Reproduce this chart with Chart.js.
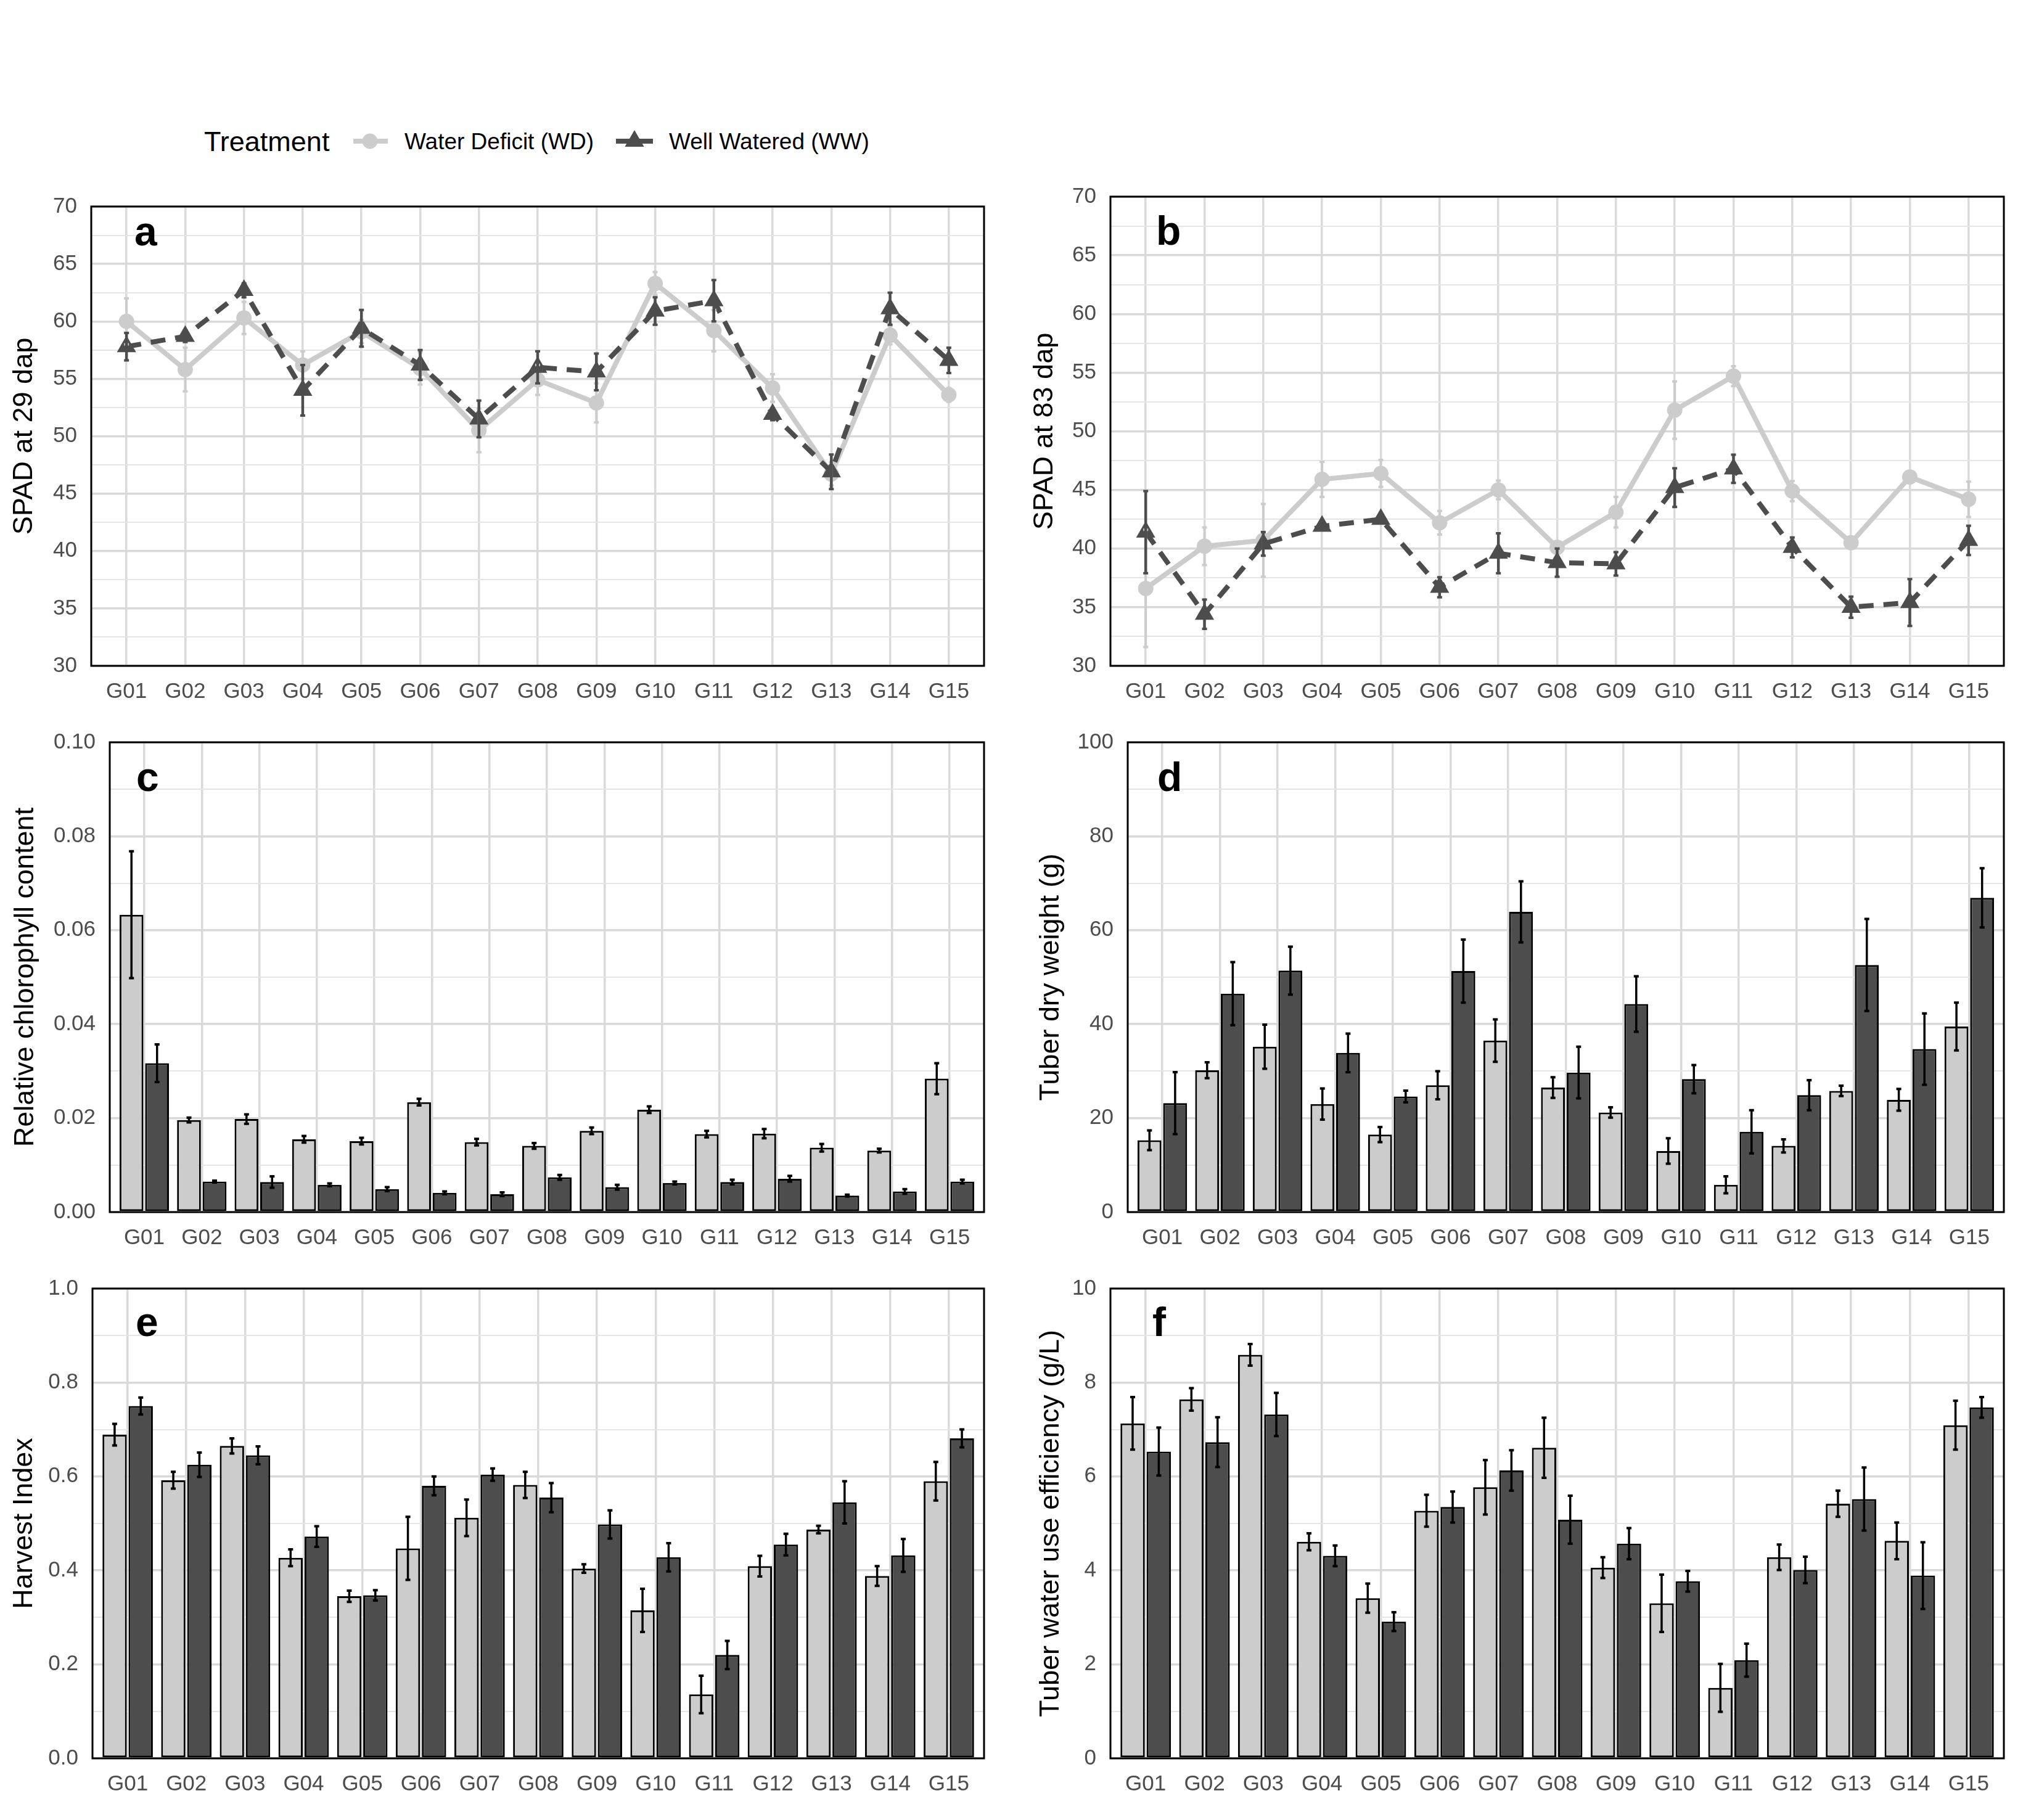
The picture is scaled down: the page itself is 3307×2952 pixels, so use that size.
<!DOCTYPE html>
<html>
<head>
<meta charset="utf-8">
<script src="https://cdn.jsdelivr.net/npm/chart.js@4.4.1/dist/chart.umd.min.js"></script>
<style>
html, body { margin: 0; padding: 0; background: #fff; }
#page { position: relative; width: 3307px; height: 2952px; overflow: hidden; font-family: 'Liberation Sans', Arial, sans-serif; }
#page canvas { position: absolute; }
.lg { position: absolute; white-space: nowrap; color: #000; line-height: 1; }
</style>
</head>
<body>
<div id="page">
  <div class="lg" style="left:331px;top:207px;font-size:45px">Treatment</div>
  <svg style="position:absolute;left:566px;top:209px" width="70" height="40">
    <line x1="7" y1="20" x2="63" y2="20" stroke="#cccccc" stroke-width="8"/>
    <circle cx="34" cy="20" r="12.5" fill="#cccccc"/>
  </svg>
  <div class="lg" style="left:656px;top:211px;font-size:37px">Water Deficit (WD)</div>
  <svg style="position:absolute;left:992px;top:209px" width="74" height="40">
    <line x1="7" y1="20" x2="67" y2="20" stroke="#4d4d4d" stroke-width="8" stroke-dasharray="24 12"/>
    <polygon points="37,2 52.6,29 21.4,29" fill="#4d4d4d"/>
  </svg>
  <div class="lg" style="left:1085px;top:211px;font-size:37px">Well Watered (WW)</div>
</div>
<script>
const genotypes = ['G01', 'G02', 'G03', 'G04', 'G05', 'G06', 'G07', 'G08', 'G09', 'G10', 'G11', 'G12', 'G13', 'G14', 'G15'];

// SPAD at 29 dap
const spad29WD = [60.0, 55.8, 60.3, 56.2, 59.1, 55.9, 50.5, 54.9, 52.9, 63.3, 59.2, 54.2, 46.7, 58.8, 53.6];
const spad29WDse = [2.0, 1.9, 1.4, 1.2, 1.0, 1.4, 1.9, 1.3, 1.7, 1.0, 1.8, 1.2, 1.0, 0.8, 0.6];
const spad29WW = [57.8, 58.7, 62.7, 54.0, 59.4, 56.2, 51.5, 56.0, 55.6, 60.9, 61.8, 51.9, 46.9, 61.1, 56.6];
const spad29WWse = [1.2, 0.5, 0.6, 2.2, 1.6, 1.3, 1.6, 1.4, 1.6, 1.2, 1.8, 0.5, 1.5, 1.4, 1.1];

// SPAD at 83 dap
const spad83WD = [36.6, 40.2, 40.7, 45.9, 46.4, 42.2, 45.0, 40.1, 43.1, 51.8, 54.7, 44.9, 40.5, 46.1, 44.2];
const spad83WDse = [5.0, 1.6, 3.1, 1.5, 1.15, 1.0, 0.8, 0.4, 1.3, 2.45, 0.85, 0.85, 0.4, 0.4, 1.5];
const spad83WW = [41.4, 34.4, 40.4, 41.9, 42.5, 36.7, 39.6, 38.8, 38.7, 45.2, 46.8, 40.1, 35.0, 35.4, 40.7];
const spad83WWse = [3.5, 1.25, 1.0, 0.3, 0.3, 0.85, 1.7, 1.2, 1.0, 1.65, 1.2, 0.85, 0.9, 2.0, 1.25];

// relative chlorophyll content
const chlWD = [0.0633, 0.0196, 0.0198, 0.0155, 0.0151, 0.0234, 0.0149, 0.0141, 0.0173, 0.0218, 0.0166, 0.0167, 0.0137, 0.0131, 0.0284];
const chlWDse = [0.0135, 0.0005, 0.001, 0.0007, 0.0007, 0.0007, 0.0007, 0.0006, 0.0007, 0.0007, 0.0007, 0.001, 0.0008, 0.0004, 0.0033];
const chlWW = [0.0317, 0.0065, 0.0064, 0.0058, 0.0049, 0.0041, 0.0038, 0.0074, 0.0053, 0.0062, 0.0064, 0.0071, 0.0035, 0.0044, 0.0065];
const chlWWse = [0.004, 0.0002, 0.0012, 0.0003, 0.0004, 0.0003, 0.0004, 0.0005, 0.0005, 0.0003, 0.0005, 0.0006, 0.0002, 0.0005, 0.0004];

// tuber dry weight (g)
const tdwWD = [15.3, 30.2, 35.2, 23.0, 16.5, 27.0, 36.5, 26.5, 21.2, 13.0, 5.8, 14.1, 25.8, 23.9, 39.5];
const tdwWDse = [2.1, 1.7, 4.7, 3.3, 1.6, 3.0, 4.5, 2.2, 1.1, 2.7, 1.8, 1.4, 1.1, 2.3, 5.1];
const tdwWW = [23.2, 46.5, 51.4, 33.9, 24.6, 51.3, 63.9, 29.7, 44.3, 28.3, 17.1, 24.9, 52.6, 34.7, 66.9];
const tdwWWse = [6.6, 6.7, 5.1, 4.1, 1.25, 6.7, 6.5, 5.5, 5.9, 3.0, 4.6, 3.2, 9.8, 7.6, 6.3];

// harvest index
const hiWD = [0.689, 0.592, 0.665, 0.427, 0.345, 0.447, 0.512, 0.582, 0.404, 0.315, 0.136, 0.409, 0.487, 0.388, 0.590];
const hiWDse = [0.023, 0.018, 0.016, 0.018, 0.012, 0.067, 0.039, 0.028, 0.009, 0.046, 0.04, 0.022, 0.008, 0.021, 0.041];
const hiWW = [0.750, 0.625, 0.645, 0.472, 0.347, 0.580, 0.604, 0.555, 0.498, 0.428, 0.220, 0.455, 0.545, 0.432, 0.681];
const hiWWse = [0.018, 0.026, 0.019, 0.022, 0.011, 0.02, 0.013, 0.031, 0.03, 0.03, 0.03, 0.023, 0.045, 0.035, 0.019];

// tuber water use efficiency (g/L)
const wueWD = [7.13, 7.64, 8.59, 4.61, 3.41, 5.27, 5.77, 6.61, 4.06, 3.30, 1.50, 4.28, 5.42, 4.63, 7.09];
const wueWDse = [0.56, 0.24, 0.23, 0.18, 0.31, 0.34, 0.58, 0.64, 0.22, 0.61, 0.51, 0.27, 0.28, 0.39, 0.52];
const wueWW = [6.53, 6.73, 7.32, 4.31, 2.91, 5.35, 6.13, 5.08, 4.57, 3.77, 2.09, 4.01, 5.52, 3.89, 7.47];
const wueWWse = [0.51, 0.53, 0.46, 0.22, 0.20, 0.33, 0.43, 0.51, 0.33, 0.22, 0.35, 0.28, 0.67, 0.71, 0.22];

// y tick labels
const spadTicks = [30, 35, 40, 45, 50, 55, 60, 65, 70];
const chlTicks = [0, 0.02, 0.04, 0.06, 0.08, 0.10];
const tdwTicks = [0, 20, 40, 60, 80, 100];
const hiTicks = [0, 0.2, 0.4, 0.6, 0.8, 1.0];
const wueTicks = [0, 2, 4, 6, 8, 10];

const FONT = "'Liberation Sans', Arial, sans-serif";
const WD_COL = '#cccccc';
const WW_COL = '#4d4d4d';
const page = document.getElementById('page');

Chart.defaults.font.family = FONT;

// major ticks plus the minor grid positions half way between them
function withMinor(major) {
    const out = [];
    major.forEach((v, i) => {
        out.push(v);
        if (i < major.length - 1) out.push((v + major[i + 1]) / 2);
    });
    return out;
}

function panel(cfg) {
    const padT = 30, padR = 25, xH = 80;
    const [pl, pt, pr, pb] = cfg.plot;
    const yW = pl - cfg.left;
    const w = yW + (pr - pl) + padR;
    const h = padT + (pb - pt) + xH;

    const cv = document.createElement('canvas');
    cv.width = w;
    cv.height = h;
    cv.style.left = cfg.left + 'px';
    cv.style.top = (pt - padT) + 'px';
    cv.style.width = w + 'px';
    cv.style.height = h + 'px';
    page.appendChild(cv);

    const pts = arr => arr.map((v, i) => ({ x: i + 1, y: v }));
    const isBar = cfg.type === 'bar';

    let datasets;
    if (isBar) {
        datasets = [
            { label: 'Water Deficit (WD)', data: pts(cfg.wd), backgroundColor: WD_COL, borderColor: '#000', borderWidth: 3, borderSkipped: false },
            { label: 'Well Watered (WW)', data: pts(cfg.ww), backgroundColor: WW_COL, borderColor: '#000', borderWidth: 3, borderSkipped: false }
        ];
    } else {
        datasets = [
            { label: 'Water Deficit (WD)', data: pts(cfg.wd), borderColor: WD_COL, backgroundColor: WD_COL, borderWidth: 8,
              pointStyle: 'circle', pointRadius: 12.5, pointBorderWidth: 0, tension: 0, order: 1 },
            { label: 'Well Watered (WW)', data: pts(cfg.ww), borderColor: WW_COL, backgroundColor: WW_COL, borderWidth: 8,
              borderDash: [24, 16], pointStyle: 'triangle', pointRadius: 18, pointBorderWidth: 0, tension: 0, order: 0 }
        ];
    }

    const errSets = isBar
        ? [{ mean: cfg.wd, se: cfg.wdSe, color: '#000', width: 3.5 },
           { mean: cfg.ww, se: cfg.wwSe, color: '#000', width: 3.5 }]
        : [{ mean: cfg.wd, se: cfg.wdSe, color: WD_COL, width: 4 },
           { mean: cfg.ww, se: cfg.wwSe, color: WW_COL, width: 4.5 }];

    const extras = {
        id: 'extras' + cfg.letter,
        afterDatasetsDraw(chart) {
            const ctx = chart.ctx, ys = chart.scales.y;
            errSets.forEach((s, di) => {
                const meta = chart.getDatasetMeta(di);
                ctx.save();
                ctx.strokeStyle = s.color;
                s.mean.forEach((m, i) => {
                    const x = meta.data[i].x;
                    const top = ys.getPixelForValue(m + s.se[i]);
                    const bot = ys.getPixelForValue(m - s.se[i]);
                    ctx.lineWidth = s.width;
                    ctx.beginPath();
                    ctx.moveTo(x, top);
                    ctx.lineTo(x, bot);
                    ctx.stroke();
                    ctx.lineWidth = 4;
                    ctx.beginPath();
                    ctx.moveTo(x - 4, top); ctx.lineTo(x + 4, top);
                    ctx.moveTo(x - 4, bot); ctx.lineTo(x + 4, bot);
                    ctx.stroke();
                });
                ctx.restore();
            });
        },
        afterDraw(chart) {
            const ctx = chart.ctx, a = chart.chartArea;
            ctx.save();
            ctx.strokeStyle = '#000';
            ctx.lineWidth = 3;
            ctx.strokeRect(a.left, a.top, a.right - a.left, a.bottom - a.top);
            ctx.fillStyle = '#000';
            ctx.font = 'bold 66px ' + FONT;
            ctx.textBaseline = 'alphabetic';
            ctx.fillText(cfg.letter, a.left + cfg.lp[0], a.top + cfg.lp[1]);
            ctx.restore();
        }
    };

    const yTicks = withMinor(cfg.ticks);

    const chart = new Chart(cv, {
        type: isBar ? 'bar' : 'line',
        data: { datasets: datasets },
        options: {
            responsive: false,
            maintainAspectRatio: false,
            animation: false,
            devicePixelRatio: 1,
            layout: { padding: { top: padT, right: padR, left: 0, bottom: 0 } },
            plugins: { legend: { display: false }, tooltip: { enabled: false } },
            datasets: { bar: { categoryPercentage: 0.89, barPercentage: 0.93 } },
            scales: {
                x: {
                    type: 'linear',
                    min: 0.4,
                    max: 15.6,
                    offset: false,
                    afterBuildTicks: s => { s.ticks = genotypes.map((g, i) => ({ value: i + 1 })); },
                    afterFit: s => { s.height = xH; },
                    ticks: {
                        callback: v => genotypes[Math.round(v) - 1],
                        color: '#4d4d4d',
                        font: { size: 35 },
                        padding: 21,
                        autoSkip: false,
                        maxRotation: 0
                    },
                    grid: { color: '#dadada', lineWidth: 3.5, drawTicks: false, offset: false },
                    border: { display: false }
                },
                y: {
                    type: 'linear',
                    min: cfg.ticks[0],
                    max: cfg.ticks[cfg.ticks.length - 1],
                    afterBuildTicks: s => { s.ticks = yTicks.map(v => ({ value: v })); },
                    afterFit: s => { s.width = yW; },
                    ticks: {
                        callback: (v, i) => (i % 2 === 0 ? cfg.fmt(v) : ''),
                        color: '#4d4d4d',
                        font: { size: 35 },
                        padding: 23
                    },
                    grid: {
                        color: c => (c.index % 2 === 0 ? '#d9d9d9' : '#e5e5e5'),
                        lineWidth: c => (c.index % 2 === 0 ? 3.5 : 2),
                        drawTicks: false
                    },
                    border: { display: false },
                    title: {
                        display: true,
                        text: cfg.title,
                        color: '#000',
                        font: { size: 45 },
                        padding: { top: 4, bottom: 4 }
                    }
                }
            }
        },
        plugins: [extras]
    });

    // the layout may push the plot area down; grow the canvas upward so the box lands where it should
    const extra = Math.round(chart.chartArea.top - padT);
    if (extra !== 0) {
        cv.style.top = (pt - padT - extra) + 'px';
        cv.style.height = (h + extra) + 'px';
        chart.resize(w, h + extra);
    }
}

panel({ type: 'line', letter: 'a', left: 9, plot: [148, 335, 1596, 1080], lp: [70, 63],
        wd: spad29WD, wdSe: spad29WDse, ww: spad29WW, wwSe: spad29WWse,
        ticks: spadTicks, fmt: v => String(v), title: 'SPAD at 29 dap' });
panel({ type: 'line', letter: 'b', left: 1664, plot: [1801, 319, 3250, 1080], lp: [74, 78],
        wd: spad83WD, wdSe: spad83WDse, ww: spad83WW, wwSe: spad83WWse,
        ticks: spadTicks, fmt: v => String(v), title: 'SPAD at 83 dap' });
panel({ type: 'bar', letter: 'c', left: 11, plot: [178, 1204, 1596, 1966], lp: [43, 79],
        wd: chlWD, wdSe: chlWDse, ww: chlWW, wwSe: chlWWse,
        ticks: chlTicks, fmt: v => v.toFixed(2), title: 'Relative chlorophyll content' });
panel({ type: 'bar', letter: 'd', left: 1674, plot: [1829, 1204, 3250, 1966], lp: [48, 79],
        wd: tdwWD, wdSe: tdwWDse, ww: tdwWW, wwSe: tdwWWse,
        ticks: tdwTicks, fmt: v => String(v), title: 'Tuber dry weight (g)' });
panel({ type: 'bar', letter: 'e', left: 9, plot: [150, 2090, 1596, 2852], lp: [70, 77],
        wd: hiWD, wdSe: hiWDse, ww: hiWW, wwSe: hiWWse,
        ticks: hiTicks, fmt: v => v.toFixed(1), title: 'Harvest Index' });
panel({ type: 'bar', letter: 'f', left: 1674, plot: [1801, 2090, 3250, 2852], lp: [68, 77],
        wd: wueWD, wdSe: wueWDse, ww: wueWW, wwSe: wueWWse,
        ticks: wueTicks, fmt: v => String(v), title: 'Tuber water use efficiency (g/L)' });
</script>
</body>
</html>
